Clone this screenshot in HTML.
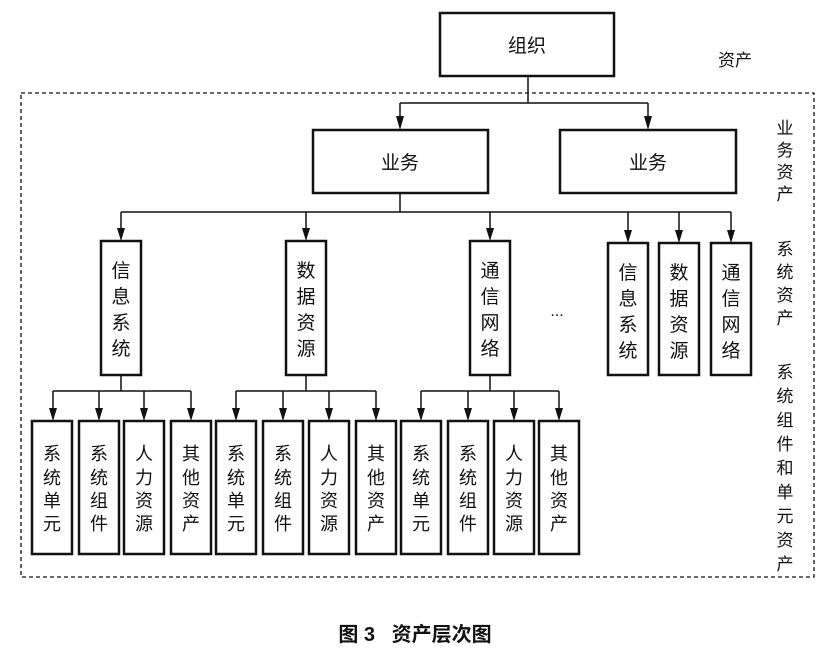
<!DOCTYPE html>
<html><head><meta charset="utf-8"><style>
body{margin:0;background:#fff}
svg text{font-family:"Liberation Sans","Noto Sans CJK SC",sans-serif;fill:#111}
</style></head><body>
<svg width="832" height="659" viewBox="0 0 832 659" xmlns="http://www.w3.org/2000/svg">
<defs><marker id="a" markerWidth="8" markerHeight="12" refX="4" refY="11" orient="auto" markerUnits="userSpaceOnUse"><path d="M1,0 L7,0 L4,11 Z" fill="#111" transform="rotate(-90 4 6)"/></marker></defs>
<g stroke="#111" fill="none">
<rect x="21" y="93" width="793" height="484" stroke-dasharray="4,3" stroke-width="1.3"/>
<g stroke-width="2.5" fill="#fff">
<rect x="440" y="13" width="174" height="63"/>
<rect x="313" y="130" width="175" height="63"/>
<rect x="560" y="130" width="176" height="63"/>
<rect x="101" y="241" width="40" height="134"/>
<rect x="286" y="241" width="40" height="134"/>
<rect x="470" y="241" width="40" height="134"/>
<rect x="608" y="243" width="40" height="132"/>
<rect x="659" y="243" width="40" height="132"/>
<rect x="711" y="243" width="40" height="132"/>
<rect x="32" y="421" width="40" height="133"/><rect x="79" y="421" width="40" height="133"/><rect x="124" y="421" width="40" height="133"/><rect x="171" y="421" width="40" height="133"/>
<rect x="216" y="421" width="40" height="133"/><rect x="263" y="421" width="40" height="133"/><rect x="309" y="421" width="40" height="133"/><rect x="356" y="421" width="40" height="133"/>
<rect x="401" y="421" width="40" height="133"/><rect x="448" y="421" width="40" height="133"/><rect x="494" y="421" width="40" height="133"/><rect x="539" y="421" width="40" height="133"/>
</g>
<g stroke-width="1.5">
<path d="M528 76V103M400 103H648M400 193V212M121 212H731M121 375V391M53 391H191M306 375V391M236 391H376M490 375V391M421 391H559"/>
</g>
</g>
<g fill="#111">
<path d="M400 103V118" stroke="#111" stroke-width="1.5"/><path d="M396 116h8l-4 14z"/>
<path d="M648 103V118" stroke="#111" stroke-width="1.5"/><path d="M644 116h8l-4 14z"/>
<g stroke="#111" stroke-width="1.5">
<path d="M121 212V230M306 212V230M490 212V230M628 212V232M679 212V232M731 212V232"/>
<path d="M53 391V410M99 391V410M144 391V410M191 391V410M236 391V410M283 391V410M329 391V410M376 391V410M421 391V410M468 391V410M514 391V410M559 391V410"/>
</g>
<path d="M117 228h8l-4 13z"/><path d="M302 228h8l-4 13z"/><path d="M486 228h8l-4 13z"/><path d="M624 230h8l-4 13z"/><path d="M675 230h8l-4 13z"/><path d="M727 230h8l-4 13z"/>
<g transform="translate(0,0)">
<path d="M49 408h8l-4 13z"/><path d="M95 408h8l-4 13z"/><path d="M140 408h8l-4 13z"/><path d="M187 408h8l-4 13z"/><path d="M232 408h8l-4 13z"/><path d="M279 408h8l-4 13z"/><path d="M325 408h8l-4 13z"/><path d="M372 408h8l-4 13z"/><path d="M417 408h8l-4 13z"/><path d="M464 408h8l-4 13z"/><path d="M510 408h8l-4 13z"/><path d="M555 408h8l-4 13z"/>
</g>
</g>
<g font-size="19" text-anchor="middle">
<text x="527" y="52">组织</text>
<text x="400" y="169">业务</text>
<text x="648" y="169">业务</text>
<text x="735" y="66" font-size="17">资产</text>
<text x="557" y="316" font-size="16">...</text>
</g>
<g font-size="19" text-anchor="middle">
<g id="t1"><text x="121" y="277">信</text><text x="121" y="303">息</text><text x="121" y="329">系</text><text x="121" y="355">统</text></g>
<text x="306" y="277">数</text><text x="306" y="303">据</text><text x="306" y="329">资</text><text x="306" y="355">源</text>
<text x="490" y="277">通</text><text x="490" y="303">信</text><text x="490" y="329">网</text><text x="490" y="355">络</text>
<text x="628" y="279">信</text><text x="628" y="305">息</text><text x="628" y="331">系</text><text x="628" y="357">统</text>
<text x="679" y="279">数</text><text x="679" y="305">据</text><text x="679" y="331">资</text><text x="679" y="357">源</text>
<text x="731" y="279">通</text><text x="731" y="305">信</text><text x="731" y="331">网</text><text x="731" y="357">络</text>
</g>
<g font-size="18" text-anchor="middle">
<g><text x="52" y="460">系</text><text x="52" y="484">统</text><text x="52" y="507">单</text><text x="52" y="530">元</text></g>
<g><text x="99" y="460">系</text><text x="99" y="484">统</text><text x="99" y="507">组</text><text x="99" y="530">件</text></g>
<g><text x="144" y="460">人</text><text x="144" y="484">力</text><text x="144" y="507">资</text><text x="144" y="530">源</text></g>
<g><text x="191" y="460">其</text><text x="191" y="484">他</text><text x="191" y="507">资</text><text x="191" y="530">产</text></g>
<g><text x="236" y="460">系</text><text x="236" y="484">统</text><text x="236" y="507">单</text><text x="236" y="530">元</text></g>
<g><text x="283" y="460">系</text><text x="283" y="484">统</text><text x="283" y="507">组</text><text x="283" y="530">件</text></g>
<g><text x="329" y="460">人</text><text x="329" y="484">力</text><text x="329" y="507">资</text><text x="329" y="530">源</text></g>
<g><text x="376" y="460">其</text><text x="376" y="484">他</text><text x="376" y="507">资</text><text x="376" y="530">产</text></g>
<g><text x="421" y="460">系</text><text x="421" y="484">统</text><text x="421" y="507">单</text><text x="421" y="530">元</text></g>
<g><text x="468" y="460">系</text><text x="468" y="484">统</text><text x="468" y="507">组</text><text x="468" y="530">件</text></g>
<g><text x="514" y="460">人</text><text x="514" y="484">力</text><text x="514" y="507">资</text><text x="514" y="530">源</text></g>
<g><text x="559" y="460">其</text><text x="559" y="484">他</text><text x="559" y="507">资</text><text x="559" y="530">产</text></g>
</g>
<g font-size="17" text-anchor="middle">
<text x="785" y="134">业</text><text x="785" y="156">务</text><text x="785" y="178">资</text><text x="785" y="200">产</text>
<text x="785" y="255">系</text><text x="785" y="278">统</text><text x="785" y="301">资</text><text x="785" y="324">产</text>
<text x="785" y="378">系</text><text x="785" y="402">统</text><text x="785" y="426">组</text><text x="785" y="450">件</text><text x="785" y="474">和</text><text x="785" y="498">单</text><text x="785" y="522">元</text><text x="785" y="546">资</text><text x="785" y="570">产</text>
</g>
<text x="415" y="641" font-size="20" font-weight="bold" text-anchor="middle" xml:space="preserve">图 3   资产层次图</text>
</svg>
</body></html>
